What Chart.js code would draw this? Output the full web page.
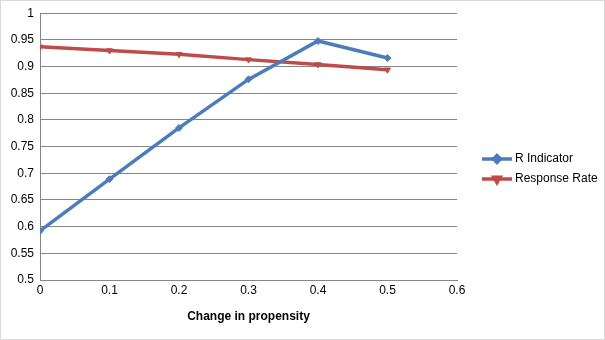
<!DOCTYPE html>
<html>
<head>
<meta charset="utf-8">
<script src="https://cdn.jsdelivr.net/npm/chart.js@4"></script>
<style>
  html, body { margin: 0; padding: 0; background: #fff; }
  #wrap { width: 605px; height: 340px; position: relative; }
</style>
</head>
<body>
<div id="wrap"><canvas id="chart" width="605" height="340"></canvas></div>
<script>
// change in propensity (x) and the two measures
const propensity = [0, 0.1, 0.2, 0.3, 0.4, 0.5];
const rIndicator = [0.592, 0.689, 0.785, 0.876, 0.948, 0.916];
const responseRate = [0.937, 0.930, 0.923, 0.913, 0.904, 0.894];
const seriesNames = ['R Indicator', 'Response Rate'];

const BLUE = '#4a7ebb';
const RED = '#be4b48';
const FONT = "'Liberation Sans', Arial, sans-serif";

function toPoints(ys) {
  return propensity.map((x, i) => ({ x: x, y: ys[i] }));
}

// legend drawn Excel-style: short line with marker, then the label
const sideLegend = {
  id: 'sideLegend',
  afterDraw(chart) {
    const ctx = chart.ctx;
    ctx.save();
    chart.data.datasets.forEach((ds, i) => {
      const y = 159 + i * 20;
      ctx.strokeStyle = ds.borderColor;
      ctx.lineWidth = 3.5;
      ctx.beginPath();
      ctx.moveTo(482, y);
      ctx.lineTo(512, y);
      ctx.stroke();
      Chart.helpers.drawPoint(ctx, {
        pointStyle: ds.pointStyle,
        rotation: ds.pointRotation || 0,
        radius: 3.5,
        borderWidth: 1
      }, 497, y);
      ctx.fillStyle = ds.borderColor;
      ctx.fill();
      ctx.fillStyle = '#000';
      ctx.font = '12px ' + FONT;
      ctx.textBaseline = 'middle';
      ctx.fillText(ds.label, 515, y);
    });
    ctx.restore();
  }
};

// thin outer frame round the chart
const frame = {
  id: 'frame',
  afterDraw(chart) {
    const ctx = chart.ctx;
    ctx.save();
    ctx.strokeStyle = '#d9d9d9';
    ctx.lineWidth = 1;
    ctx.strokeRect(0.5, 0.5, chart.width - 1, chart.height - 1);
    ctx.restore();
  }
};

new Chart(document.getElementById('chart'), {
  type: 'line',
  data: {
    datasets: [{
      label: seriesNames[0],
      data: toPoints(rIndicator),
      borderColor: BLUE,
      backgroundColor: BLUE,
      borderWidth: 3.5,
      pointStyle: 'rectRot',
      pointRadius: 3.5,
      pointBorderWidth: 1,
      tension: 0
    }, {
      label: seriesNames[1],
      data: toPoints(responseRate),
      borderColor: RED,
      backgroundColor: RED,
      borderWidth: 3.5,
      pointStyle: 'triangle',
      pointRotation: 180,
      pointRadius: 3.5,
      pointBorderWidth: 1,
      tension: 0
    }]
  },
  options: {
    responsive: false,
    animation: false,
    layout: { padding: { left: 0, right: 148, top: 13, bottom: 16 } },
    plugins: {
      legend: { display: false },
      tooltip: { enabled: false }
    },
    scales: {
      x: {
        type: 'linear',
        min: 0,
        max: 0.6,
        ticks: {
          stepSize: 0.1,
          color: '#000',
          font: { family: FONT, size: 12 },
          padding: 3,
          callback: v => String(+v.toFixed(2))
        },
        grid: { display: false, drawTicks: false },
        border: { color: '#868686', width: 1 },
        title: {
          display: true,
          text: 'Change in propensity',
          color: '#000',
          font: { family: FONT, size: 12, weight: 'bold' },
          padding: { top: 10, bottom: 0 }
        },
        afterFit(scale) { scale.height = 44; }
      },
      y: {
        min: 0.5,
        max: 1,
        ticks: {
          stepSize: 0.05,
          color: '#000',
          font: { family: FONT, size: 12 },
          padding: 6,
          callback: v => String(+v.toFixed(2))
        },
        grid: { color: '#868686', drawTicks: false },
        border: { color: '#868686', width: 1 },
        afterFit(scale) { scale.width = 40; }
      }
    }
  },
  plugins: [sideLegend, frame]
});
</script>
</body>
</html>
